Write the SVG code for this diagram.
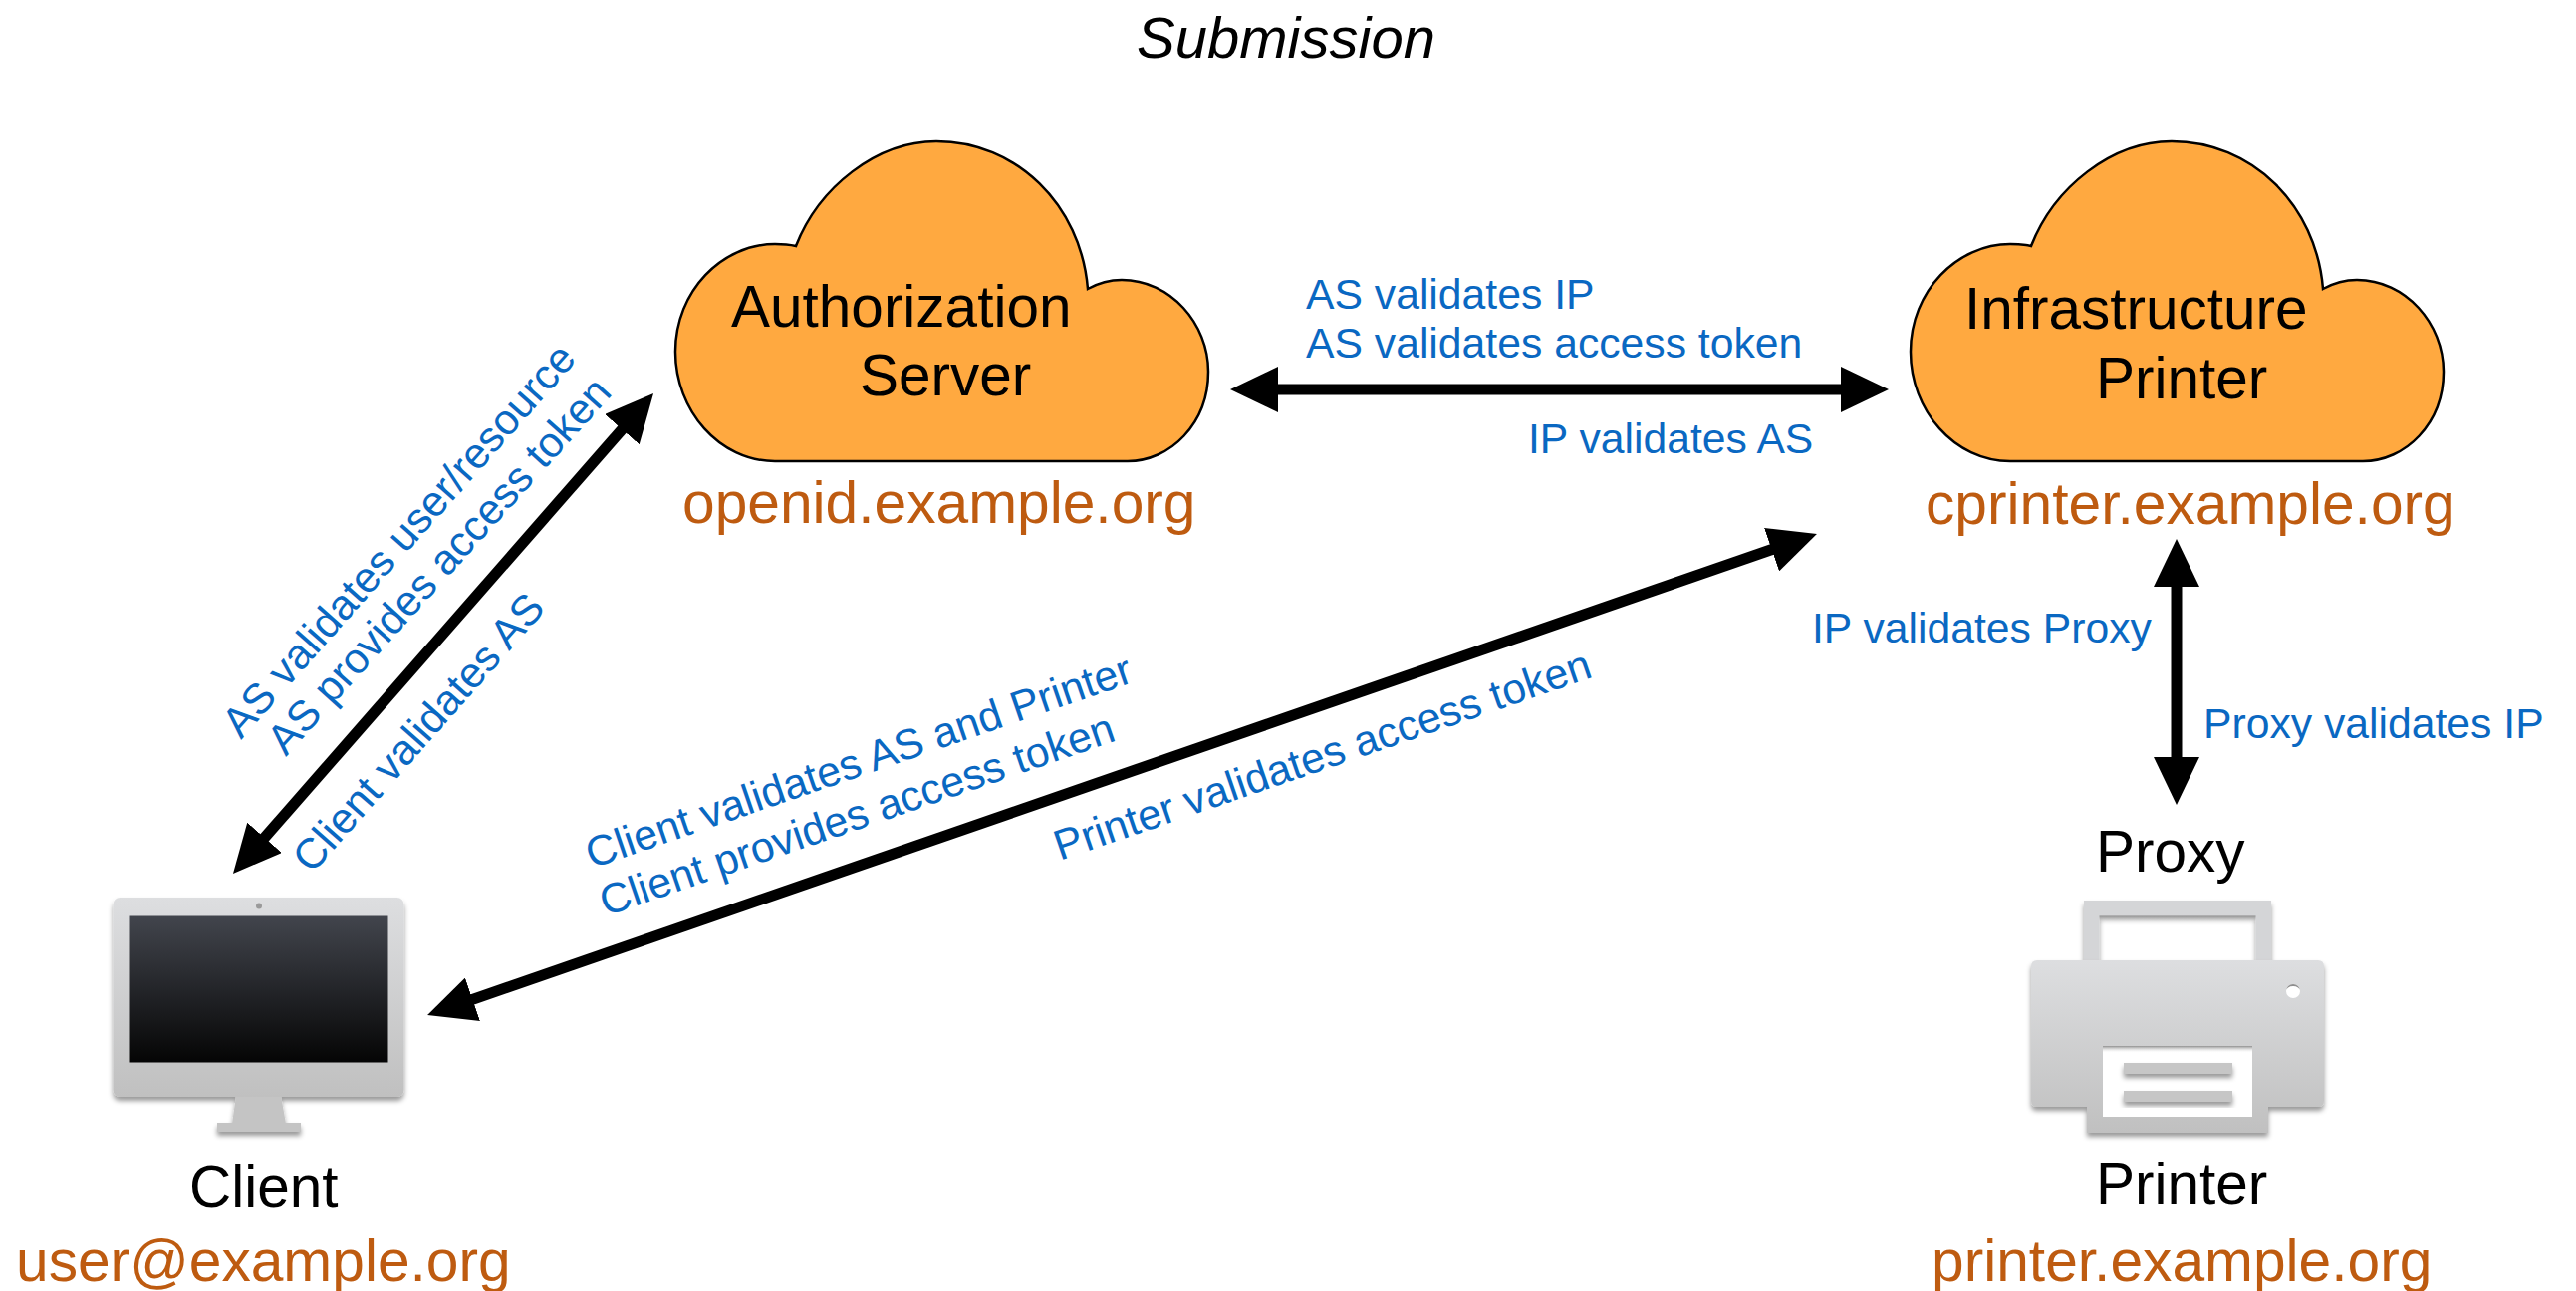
<svg xmlns="http://www.w3.org/2000/svg" width="2586" height="1296" viewBox="0 0 2586 1296">
<style>
text{font-family:"Liberation Sans",Arial,sans-serif}
.n{font-size:58.5px;fill:#000}
.d{font-size:58.7px;fill:#BE5B10}
.b{font-size:42.7px;fill:#0A68C2}
.c{stroke:#000;stroke-width:11;fill:none;marker-start:url(#ah);marker-end:url(#ah)}
.cloud{fill:#FFA940;stroke:#000;stroke-width:2.5}
</style>
<defs>
<marker id="ah" markerUnits="userSpaceOnUse" markerWidth="50" markerHeight="46" refX="10" refY="23" orient="auto-start-reverse"><path d="M0,0 L48,23 L0,46 Z" fill="#000"/></marker>
<linearGradient id="bodyG" x1="0" y1="0" x2="0" y2="1"><stop offset="0" stop-color="#dddee0"/><stop offset="1" stop-color="#c0c0c0"/></linearGradient>
<linearGradient id="screenG" x1="0" y1="0" x2="0" y2="1"><stop offset="0" stop-color="#42454d"/><stop offset="1" stop-color="#050505"/></linearGradient>
<linearGradient id="inG" x1="0" y1="0" x2="0" y2="1"><stop offset="0" stop-color="#8f8f8f"/><stop offset="1" stop-color="#fff" stop-opacity="0"/></linearGradient>
<filter id="sh" x="-10%" y="-10%" width="120%" height="125%"><feDropShadow dx="0" dy="4" stdDeviation="2.5" flood-color="#000" flood-opacity=".4"/></filter>
<path id="cl" class="cloud" d="M778,463 C722,463 678,412 678,353 C678,292 725,245 778,245 Q790,245 799,247 C822,188 880,142 940,142 C1020,142 1085,205 1092,290 C1103,284 1115,281 1126,281 C1175,281 1213,325 1213,373 C1213,425 1175,463 1132,463 Z"/>
</defs>
<rect width="2586" height="1296" fill="#fff"/>
<text id="title" x="1291" y="58" font-size="58" font-style="italic" text-anchor="middle">Submission</text>
<g id="connectors">
<path class="c" d="M259,848.4 L631,423.6"/>
<path class="c" d="M465,1006.6 L1788,548.4"/>
<path class="c" d="M1273,391 L1858,391"/>
<path class="c" d="M2185,579 L2185,770"/>
</g>
<g id="connector-labels">
<text class="b" transform="translate(242,743) rotate(-48.5)">AS validates user/resource</text>
<text class="b" transform="translate(287,760) rotate(-48)">AS provides access token</text>
<text class="b" transform="translate(313,878) rotate(-48.5)">Client validates AS</text>
<text class="b" x="1311" y="310">AS validates IP</text>
<text class="b" x="1311" y="359">AS validates access token</text>
<text class="b" x="1534" y="455">IP validates AS</text>
<text class="b" transform="translate(594,872) rotate(-19)">Client validates AS and Printer</text>
<text class="b" transform="translate(608,920) rotate(-19)">Client provides access token</text>
<text class="b" transform="translate(1064,864) rotate(-19)">Printer validates access token</text>
<text class="b" x="1819" y="645">IP validates Proxy</text>
<text class="b" x="2212" y="741">Proxy validates IP</text>
</g>
<g id="authorization-server">
<use href="#cl"/>
<text class="n" x="734" y="328">Authorization</text>
<text class="n" x="863" y="397">Server</text>
<text class="d" x="685" y="525">openid.example.org</text>
</g>
<g id="infrastructure-printer">
<use href="#cl" x="1240"/>
<text class="n" x="1972" y="330">Infrastructure</text>
<text class="n" x="2104" y="400">Printer</text>
<text class="d" x="1933" y="526">cprinter.example.org</text>
</g>
<g id="client">
<g filter="url(#sh)" fill="#c4c4c4">
<path d="M237,1100 L282,1100 L287,1128 L233,1128 Z"/>
<rect x="218" y="1127" width="84" height="9"/>
<rect x="113.5" y="901" width="292" height="200" rx="7" fill="url(#bodyG)"/>
</g>
<rect x="130.5" y="919.5" width="259" height="147" fill="url(#screenG)"/>
<circle cx="260" cy="909.5" r="3" fill="#9a9a9a"/>
<text class="n" x="190" y="1212">Client</text>
<text class="d" x="16" y="1286">user@example.org</text>
</g>
<g id="printer">
<text class="n" x="2104" y="875">Proxy</text>
<g filter="url(#sh)">
<path fill="#d4d5d7" fill-rule="evenodd" d="M2092,904 H2280 V966 H2092 Z M2107.5,919.5 V966 H2264.5 V919.5 Z"/>
</g>
<rect x="2107.5" y="919.5" width="157" height="7" fill="url(#inG)"/>
<g filter="url(#sh)">
<path fill="url(#bodyG)" d="M2045,964 H2327 Q2333,964 2333,970 V1105 Q2333,1111 2327,1111 H2277 V1137 H2095 V1111 H2045 Q2039,1111 2039,1105 V970 Q2039,964 2045,964 Z"/>
</g>
<rect x="2111" y="1050" width="150" height="71" fill="#fff"/>
<rect x="2111" y="1050" width="150" height="7" fill="url(#inG)"/>
<g filter="url(#sh)" fill="#c6c6c6">
<rect x="2132" y="1067" width="109" height="11"/>
<rect x="2132" y="1095" width="109" height="11"/>
</g>
<circle cx="2302" cy="995" r="7" fill="#fff"/>
<path d="M2295,995 A7,7 0 0 1 2309,995 A7,5 0 0 0 2295,995 Z" fill="#8f8f8f"/>
<text class="n" x="2104" y="1209">Printer</text>
<text class="d" x="1939" y="1286">printer.example.org</text>
</g>
</svg>
